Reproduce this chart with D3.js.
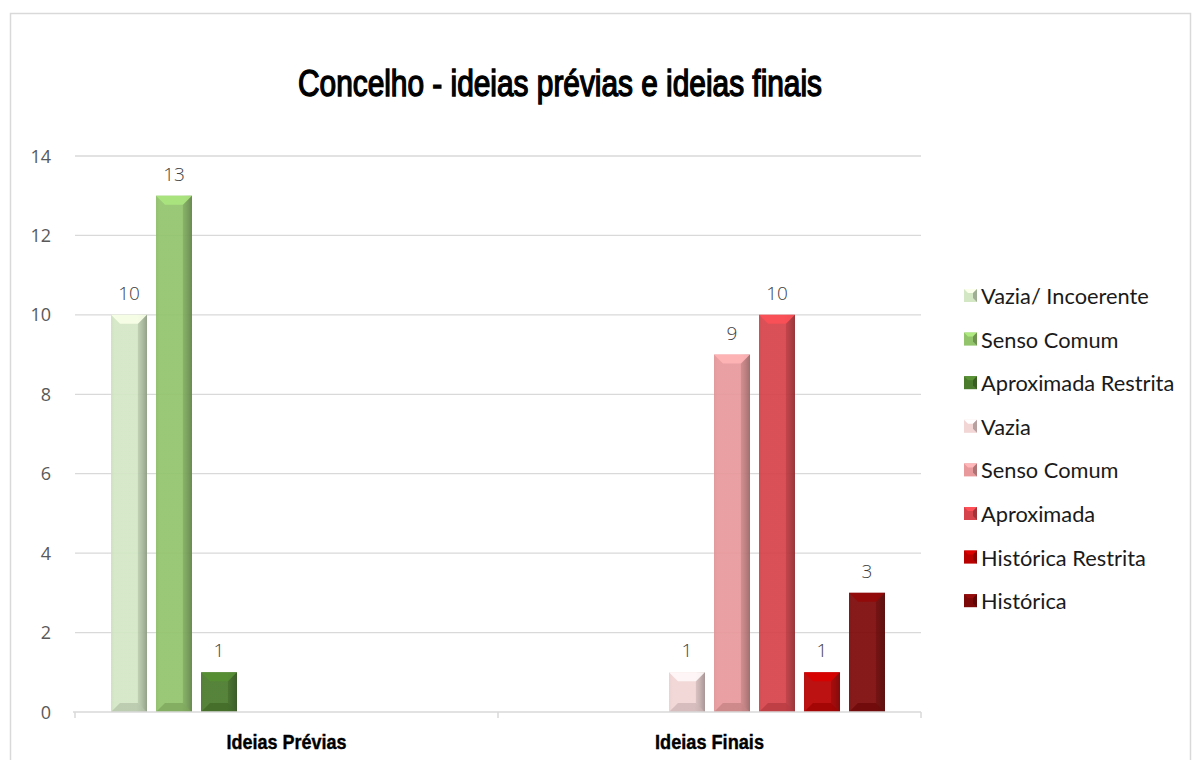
<!DOCTYPE html>
<html>
<head>
<meta charset="utf-8">
<script src="https://cdn.jsdelivr.net/npm/d3@7"></script>
<style>
  html, body { margin: 0; padding: 0; background: #fff; }
  svg { display: block; }
</style>
</head>
<body>
<svg id="chart" width="1192" height="760"></svg>
<script>
// Categories on the x axis
const categories = ["Ideias Prévias", "Ideias Finais"];

// Series (legend order)
const seriesNames = [
  "Vazia/ Incoerente", "Senso Comum", "Aproximada Restrita",
  "Vazia", "Senso Comum", "Aproximada", "Histórica Restrita", "Histórica"
];
const seriesColors = [
  "#d3e7c5", "#92c46c", "#4a7a2c",
  "#f2d5d5", "#e8999b", "#d7434a", "#b80000", "#7d0808"
];

// Values per category, one entry per series (null = no bar)
const valuesPrevias = [10, 13, 1, null, null, null, null, null];
const valuesFinais  = [null, null, null, 1, 9, 10, 1, 3];

// Y axis ticks
const yTicks = [0, 2, 4, 6, 8, 10, 12, 14];

const chartTitle = "Concelho - ideias prévias e ideias finais";

const svg = d3.select("#chart");
const defs = svg.append("defs");

// Outer frame
svg.append("rect")
  .attr("x", 10.5).attr("y", 13.5)
  .attr("width", 1180).attr("height", 760)
  .attr("fill", "none").attr("stroke", "#d9d9d9").attr("stroke-width", 1.5);

const plot = { left: 75, right: 921, top: 156, bottom: 712 };

const x0 = d3.scaleBand().domain(categories).range([plot.left, plot.right]).padding(0);
const x1 = d3.scaleBand().domain(d3.range(seriesNames.length))
  .range([0, x0.bandwidth()]).paddingInner(0.2).paddingOuter(0.8);
const y = d3.scaleLinear().domain([0, 14]).range([plot.bottom, plot.top]);

// Gridlines
svg.append("g").selectAll("line").data(yTicks.filter(t => t > 0)).join("line")
  .attr("x1", plot.left).attr("x2", plot.right)
  .attr("y1", d => y(d)).attr("y2", d => y(d))
  .attr("stroke", "#d9d9d9").attr("stroke-width", 1.3);

// Y tick labels
svg.append("g").selectAll("text").data(yTicks).join("text")
  .attr("x", 51).attr("y", d => y(d) + 6.5)
  .attr("text-anchor", "end")
  .attr("font-family", "'Open Sans', sans-serif")
  .attr("font-size", 18)
  .attr("fill", "#595959")
  .text(d => d);

// Per-series gradients for the bevelled bar look
seriesColors.forEach((c, i) => {
  const base = d3.color(c);
  const g = defs.append("linearGradient").attr("id", "grad" + i)
    .attr("x1", "0").attr("x2", "1").attr("y1", "0").attr("y2", "0");
  g.append("stop").attr("offset", "0").attr("stop-color", base.darker(0.1));
  g.append("stop").attr("offset", "0.1").attr("stop-color", base);
  g.append("stop").attr("offset", "0.72").attr("stop-color", base);
  g.append("stop").attr("offset", "0.86").attr("stop-color", base.darker(0.45));
  g.append("stop").attr("offset", "1").attr("stop-color", base.darker(1.2));
});

const rows = [valuesPrevias, valuesFinais];
const barData = [];
rows.forEach((vals, ci) => {
  vals.forEach((v, si) => {
    if (v !== null) barData.push({ cat: categories[ci], s: si, v });
  });
});

const bw = x1.bandwidth();
const bev = 9;
const bars = svg.append("g").selectAll("g").data(barData).join("g")
  .attr("transform", d => `translate(${x0(d.cat) + x1(d.s)},0)`);

bars.append("rect")
  .attr("x", 0).attr("y", d => y(d.v))
  .attr("width", bw).attr("height", d => y(0) - y(d.v))
  .attr("fill", d => `url(#grad${d.s})`)
  .attr("fill-opacity", 0.93);

// Top bevel (light)
bars.append("path")
  .attr("d", d => {
    const t = y(d.v);
    return `M0,${t} L${bw},${t} L${bw - bev},${t + bev} L${bev},${t + bev} Z`;
  })
  .attr("fill", d => d3.color(seriesColors[d.s]).brighter(0.45))
  .attr("fill-opacity", 0.9);

// Bottom bevel (dark)
bars.append("path")
  .attr("d", d => {
    const b = y(0);
    return `M0,${b} L${bw},${b} L${bw - bev},${b - bev} L${bev},${b - bev} Z`;
  })
  .attr("fill", d => d3.color(seriesColors[d.s]).darker(0.5))
  .attr("fill-opacity", 0.7);

// Right bevel (shadow)
bars.append("path")
  .attr("d", d => {
    const t = y(d.v), b = y(0);
    return `M${bw},${t} L${bw},${b} L${bw - bev},${b - bev} L${bw - bev},${t + bev} Z`;
  })
  .attr("fill", d => d3.color(seriesColors[d.s]).darker(0.9))
  .attr("fill-opacity", 0.3);

// Data labels
bars.append("text")
  .attr("x", bw / 2).attr("y", d => y(d.v) - 15)
  .attr("text-anchor", "middle")
  .attr("font-family", "'Open Sans', sans-serif")
  .attr("font-weight", 300)
  .attr("font-size", 19)
  .attr("fill", "#404040")
  .text(d => d.v);

// X axis line and ticks
svg.append("line")
  .attr("x1", plot.left - 2).attr("x2", plot.right)
  .attr("y1", plot.bottom).attr("y2", plot.bottom)
  .attr("stroke", "#d9d9d9").attr("stroke-width", 1.5);
const tickXs = [plot.left, ...categories.map(c => x0(c) + x0.bandwidth())];
svg.append("g").selectAll("line").data(tickXs).join("line")
  .attr("x1", d => d).attr("x2", d => d)
  .attr("y1", plot.bottom).attr("y2", plot.bottom + 6)
  .attr("stroke", "#d9d9d9").attr("stroke-width", 1.5);

// Category labels
const catWidths = { "Ideias Prévias": 120, "Ideias Finais": 109 };
svg.append("g").selectAll("text").data(categories).join("text")
  .attr("x", d => x0(d) + x0.bandwidth() / 2)
  .attr("y", 749)
  .attr("text-anchor", "middle")
  .attr("font-family", "'Liberation Sans', sans-serif")
  .attr("font-weight", "bold")
  .attr("font-size", 21)
  .attr("textLength", d => catWidths[d])
  .attr("lengthAdjust", "spacingAndGlyphs")
  .attr("fill", "#000")
  .attr("stroke", "#000").attr("stroke-width", 0.4)
  .text(d => d);

// Title
svg.append("text")
  .attr("x", 560).attr("y", 96)
  .attr("text-anchor", "middle")
  .attr("font-family", "'Liberation Sans', sans-serif")
  .attr("font-size", 36)
  .attr("textLength", 524)
  .attr("lengthAdjust", "spacingAndGlyphs")
  .attr("fill", "#000")
  .attr("stroke", "#000").attr("stroke-width", 1.4)
  .text(chartTitle);

// Legend
const legend = svg.append("g").selectAll("g").data(seriesNames).join("g")
  .attr("transform", (d, i) => `translate(964,${296 + i * 43.6})`);
legend.append("rect")
  .attr("x", 0).attr("y", -7).attr("width", 13).attr("height", 13)
  .attr("fill", (d, i) => seriesColors[i]);
legend.append("path")
  .attr("d", "M0,-7 L13,-7 L9,-3 L4,-3 Z")
  .attr("fill", (d, i) => d3.color(seriesColors[i]).brighter(0.5));
legend.append("path")
  .attr("d", "M13,-7 L13,6 L9,2 L9,-3 Z")
  .attr("fill", (d, i) => d3.color(seriesColors[i]).darker(0.8));
legend.append("text")
  .attr("x", 17).attr("y", 8)
  .attr("font-family", "Lato, sans-serif")
  .attr("font-size", 21.8)
  .attr("fill", "#1a1a1a")
  .text(d => d);
</script>
</body>
</html>
